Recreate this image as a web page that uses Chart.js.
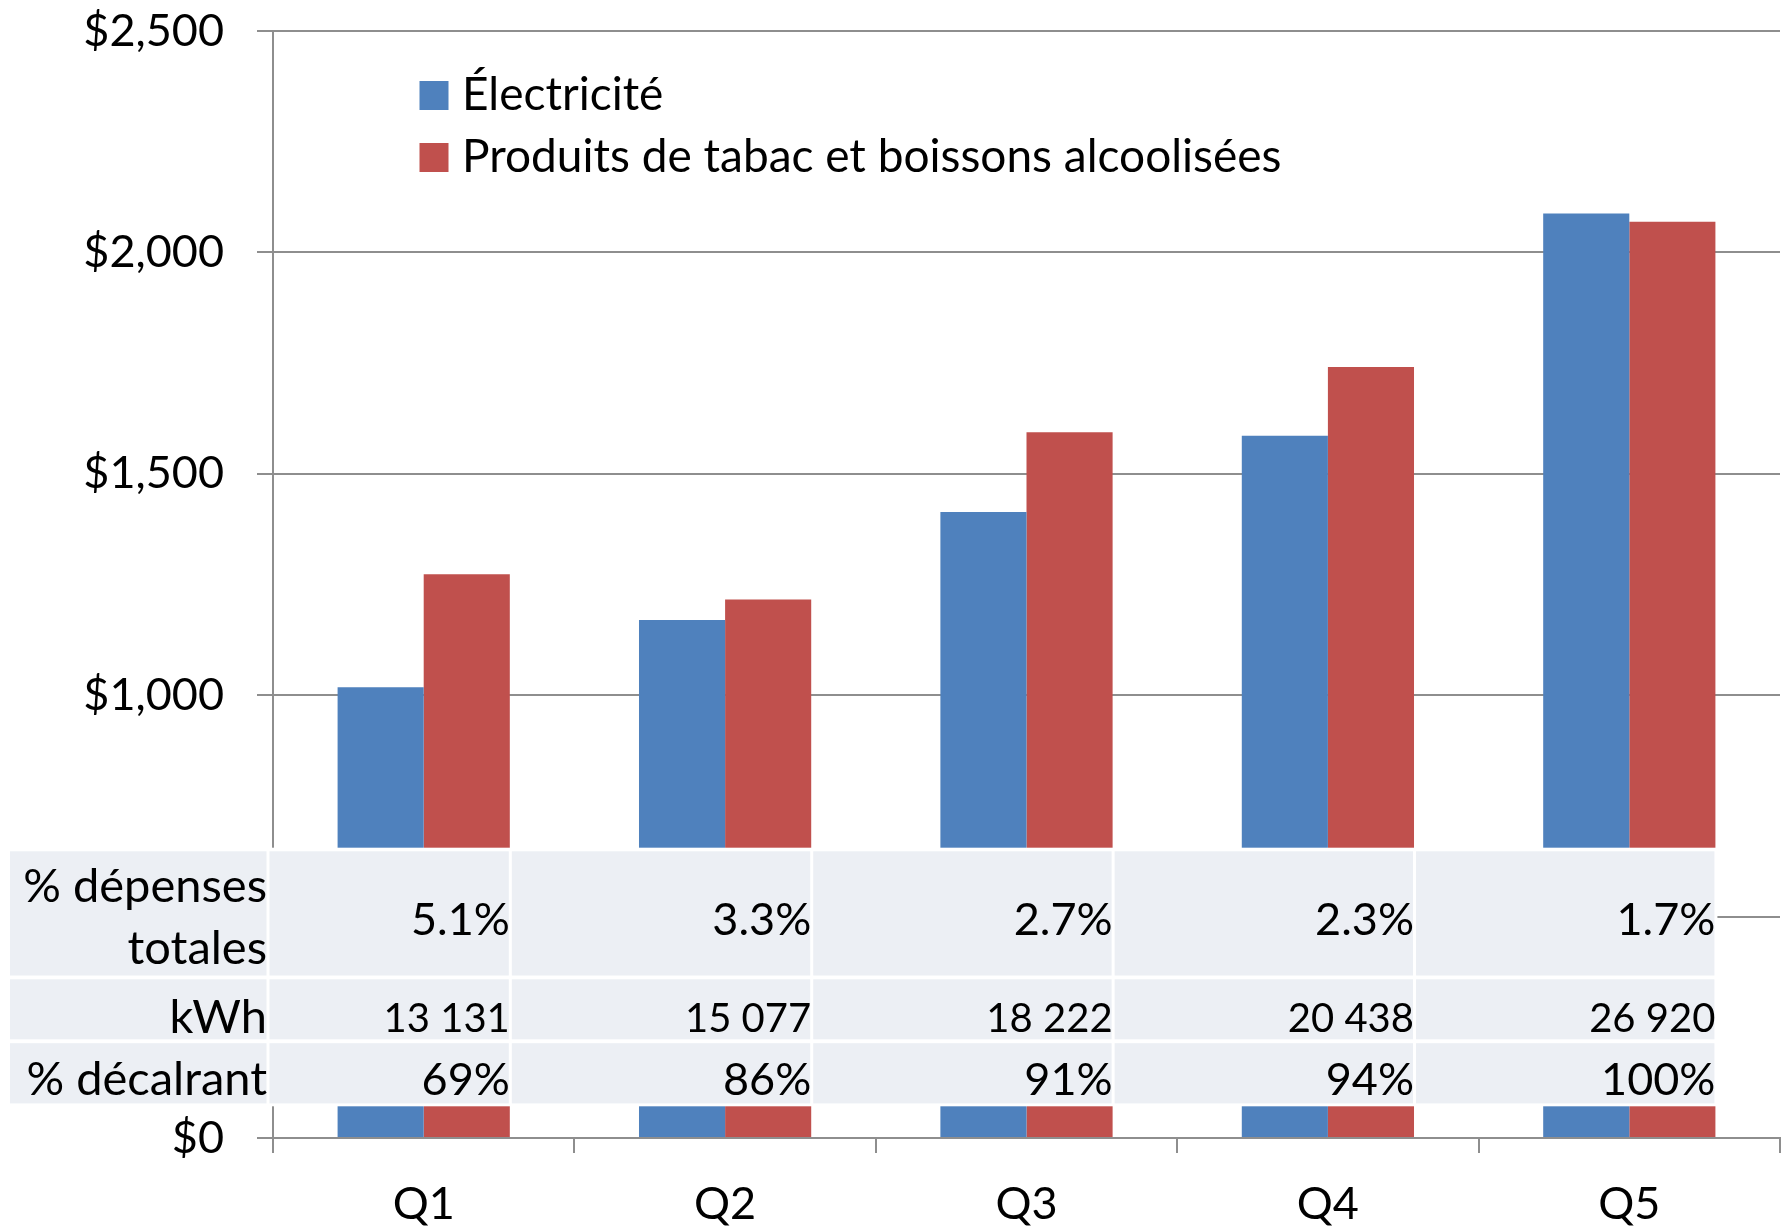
<!DOCTYPE html>
<html>
<head>
<meta charset="utf-8">
<script src="https://cdn.jsdelivr.net/npm/chart.js@4/dist/chart.umd.min.js"></script>
<style>
  html, body { margin: 0; padding: 0; background: #fff; }
  canvas { display: block; }
</style>
</head>
<body>
<canvas id="c" width="1789" height="1226"></canvas>
<script>
// ---- data ----
const categories = ['Q1', 'Q2', 'Q3', 'Q4', 'Q5'];
const seriesNames = ['Électricité', 'Produits de tabac et boissons alcoolisées'];
const electricite = [1018, 1170, 1414, 1586, 2088];
const tabacAlcool = [1273, 1216, 1594, 1741, 2069];
const yTickStep = 500;
const yMax = 2500;
const tableRowLabels = [['% dépenses', 'totales'], ['kWh'], ['% décalrant']];
const pctDepenses = [5.1, 3.3, 2.7, 2.3, 1.7];
const kwh = [13131, 15077, 18222, 20438, 26920];
const pctDecalrant = [69, 86, 91, 94, 100];

const BLUE = '#4F81BD';
const RED = '#C0504D';
const GRID = '#8e8e8e';
const CELL = '#ECEFF4';
const FONT = 'Lato';

function fmtKwh(v) {
  const s = String(v);
  return s.replace(/\B(?=(\d{3})+(?!\d))/g, ' ');
}

const legendPlugin = {
  id: 'insideLegend',
  afterDraw(chart) {
    const ctx = chart.ctx;
    ctx.save();
    ctx.font = '46px ' + FONT;
    ctx.textBaseline = 'alphabetic';
    ctx.textAlign = 'left';
    chart.data.datasets.forEach((ds, i) => {
      const base = 110 + i * 62;
      ctx.fillStyle = ds.backgroundColor;
      ctx.fillRect(419.5, base - 29, 29, 29);
      ctx.fillStyle = '#000';
      ctx.fillText(ds.label, 462, base);
    });
    ctx.restore();
  }
};

const tablePlugin = {
  id: 'dataTable',
  afterDraw(chart) {
    const ctx = chart.ctx;
    const meta = chart.getDatasetMeta(1);
    const rights = meta.data.map(b => b.x + b.width / 2 - 1);
    const area = chart.chartArea;
    ctx.save();
    // white backdrop
    ctx.fillStyle = '#fff';
    ctx.fillRect(0, 847.7, rights[rights.length - 1] + 3, 1106.3 - 847.7);
    const rows = [
      { top: 851.3, h: 124.2 },
      { top: 979.3, h: 60.0 },
      { top: 1043.2, h: 60.2 }
    ];
    const labelLeft = 10, labelRight = area.left - 6.5;
    const colLeft = i => (i === 0 ? area.left - 3.5 : rights[i - 1] + 3);
    ctx.fillStyle = CELL;
    rows.forEach(r => {
      ctx.fillRect(labelLeft, r.top, labelRight - labelLeft, r.h);
      rights.forEach((rt, i) => {
        ctx.fillRect(colLeft(i), r.top, rt - colLeft(i), r.h);
      });
    });
    ctx.fillStyle = '#000';
    ctx.textAlign = 'right';
    ctx.textBaseline = 'alphabetic';
    ctx.font = '47px ' + FONT;
    // row labels
    ctx.fillText(tableRowLabels[0][0], labelRight + 0.5, 901.5);
    ctx.fillText(tableRowLabels[0][1], labelRight + 0.5, 963.5);
    ctx.fillText(tableRowLabels[1][0], labelRight + 0.5, 1033);
    ctx.fillText(tableRowLabels[2][0], labelRight + 0.5, 1094.5);
    // values
    rights.forEach((rt, i) => {
      ctx.font = '45px ' + FONT;
      ctx.fillText(pctDepenses[i].toFixed(1) + '%', rt + 1, 934.5);
      ctx.fillText(pctDecalrant[i] + '%', rt + 1, 1094.5);
      ctx.font = '40px ' + FONT;
      ctx.fillText(fmtKwh(kwh[i]), rt + 1, 1031.5);
    });
    ctx.restore();
  }
};

new Chart(document.getElementById('c'), {
  type: 'bar',
  data: {
    labels: categories,
    datasets: [
      { label: seriesNames[0], data: electricite, backgroundColor: BLUE, borderWidth: 0,
        barPercentage: 1.0, categoryPercentage: 0.5714 },
      { label: seriesNames[1], data: tabacAlcool, backgroundColor: RED, borderWidth: 0,
        barPercentage: 1.0, categoryPercentage: 0.5714 }
    ]
  },
  options: {
    responsive: false,
    devicePixelRatio: 1,
    animation: false,
    layout: { padding: { top: 31, right: 9, bottom: 0, left: 0 } },
    plugins: {
      legend: { display: false },
      tooltip: { enabled: false },
      title: { display: false }
    },
    scales: {
      x: {
        offset: true,
        grid: { display: true, drawOnChartArea: false, drawTicks: true, tickLength: 15, color: GRID, lineWidth: 2, offset: true },
        border: { display: true, color: GRID, width: 2 },
        ticks: { color: '#000', font: { family: FONT, size: 45 }, padding: 24, maxRotation: 0 },
        afterFit(scale) { scale.height = 88; scale.paddingLeft = 0; scale.paddingRight = 0; }
      },
      y: {
        min: 0,
        max: yMax,
        grid: { color: GRID, lineWidth: 2, tickLength: 16, drawTicks: true },
        border: { display: true, color: GRID, width: 2 },
        ticks: {
          stepSize: yTickStep,
          color: '#000',
          font: { family: FONT, size: 45 },
          padding: 33,
          callback: v => '$' + Number(v).toLocaleString('en-US')
        },
        afterFit(scale) { scale.width = 273; scale.paddingTop = 0; scale.paddingBottom = 0; }
      }
    }
  },
  plugins: [legendPlugin, tablePlugin]
});
</script>
</body>
</html>
